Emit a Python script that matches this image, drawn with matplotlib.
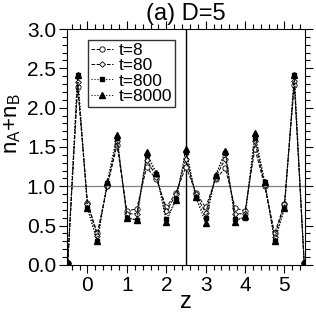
import numpy as np
import matplotlib
matplotlib.use("Agg")
import matplotlib.pyplot as plt
from matplotlib.ticker import MultipleLocator

# data
z = [-0.5, -0.25, 0, 0.25, 0.5, 0.75, 1.0, 1.25, 1.5, 1.75, 2.0, 2.25, 2.5,
     2.75, 3.0, 3.25, 3.5, 3.75, 4.0, 4.25, 4.5, 4.75, 5.0, 5.25, 5.5]
n_t8 = [0.03, 2.26, 0.79, 0.40, 1.00, 1.52, 0.69, 0.71, 1.24, 1.09, 0.73, 0.92, 1.25,
        0.92, 0.73, 1.09, 1.23, 0.72, 0.69, 1.48, 1.00, 0.40, 0.78, 2.29, 0.03]
n_t80 = [0.03, 2.33, 0.78, 0.37, 1.00, 1.58, 0.65, 0.65, 1.34, 1.12, 0.68, 0.90, 1.35,
         0.90, 0.66, 1.11, 1.35, 0.65, 0.65, 1.57, 1.02, 0.36, 0.77, 2.34, 0.03]
n_t800 = [0.03, 2.41, 0.72, 0.30, 1.04, 1.62, 0.60, 0.57, 1.40, 1.15, 0.58, 0.84, 1.44,
          0.86, 0.59, 1.13, 1.42, 0.58, 0.60, 1.62, 1.05, 0.30, 0.72, 2.41, 0.03]
n_t8000 = [0.03, 2.41, 0.72, 0.30, 1.05, 1.65, 0.60, 0.57, 1.43, 1.17, 0.55, 0.83, 1.48,
           0.86, 0.53, 1.14, 1.45, 0.55, 0.62, 1.68, 1.05, 0.30, 0.72, 2.41, 0.03]

plt.rcParams['font.family'] = 'Liberation Sans'

fig = plt.figure(figsize=(3.16, 3.12), dpi=100)
ax = fig.add_axes([0.212, 0.151, 0.753, 0.756])

ax.axhline(1.0, color='gray', lw=0.9, zorder=1)
ax.axvline(2.5, color='black', lw=1.0, zorder=1)

ms = 3.8
ax.plot(z, n_t8, '--', color='black', lw=0.7, marker='o', ms=ms,
        mfc='white', mec='black', mew=0.6, label='t=8')
ax.plot(z, n_t80, '--', color='black', lw=0.7, marker='D', ms=ms - 0.9,
        mfc='white', mec='black', mew=0.6, label='t=80')
ax.plot(z, n_t800, ':', color='black', lw=0.8, marker='s', ms=ms - 0.3,
        mfc='black', mec='black', label='t=800')
ax.plot(z, n_t8000, ':', color='black', lw=0.8, marker='^', ms=ms,
        mfc='black', mec='black', label='t=8000')

ax.set_xlim(-0.52, 5.52)
ax.set_ylim(0, 3.0)
ax.xaxis.set_major_locator(MultipleLocator(1))
ax.xaxis.set_minor_locator(MultipleLocator(0.2))
ax.yaxis.set_major_locator(MultipleLocator(0.5))
ax.yaxis.set_minor_locator(MultipleLocator(0.1))
ax.yaxis.set_major_formatter(plt.FormatStrFormatter('%.1f'))
ax.tick_params(which='both', direction='out', top=True, right=True,
               labelsize=15, pad=2)
ax.tick_params(which='major', length=6, width=0.8)
ax.tick_params(which='minor', length=3.5, width=0.8)

ax.set_xlabel('z', fontsize=17, labelpad=-3)
ax.set_ylabel(r'n$_\mathregular{A}$+n$_\mathregular{B}$', fontsize=16)
ax.yaxis.set_label_coords(-0.185, 0.6)
ax.set_title('(a) D=5', fontsize=17, pad=6.5)

leg = ax.legend(loc='upper left', bbox_to_anchor=(0.088, 0.955), fontsize=12.5,
                frameon=True, fancybox=False, edgecolor='black',
                handlelength=1.25, handletextpad=0.3, borderpad=0.2,
                labelspacing=0.0, borderaxespad=0)
leg.get_frame().set_linewidth(1.0)

fig.savefig('out.png', dpi=100)
